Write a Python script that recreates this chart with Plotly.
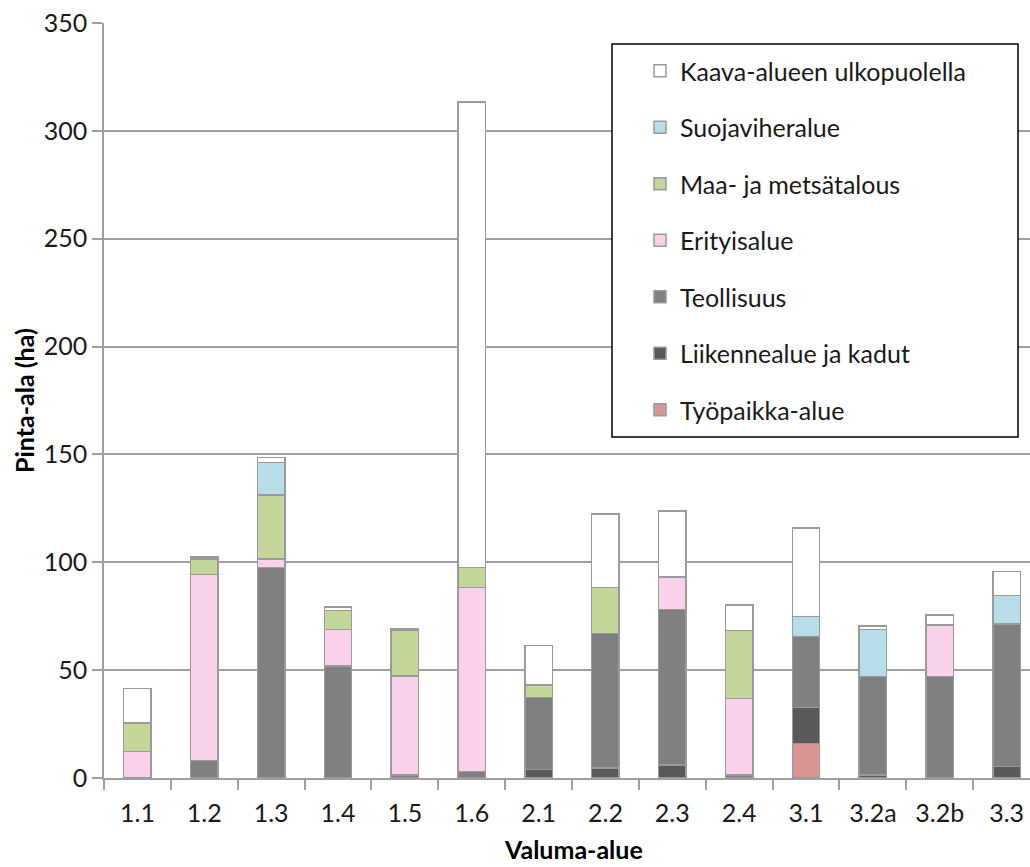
import plotly.graph_objects as go

# Catchment areas (valuma-alueet)
categories = ["1.1", "1.2", "1.3", "1.4", "1.5", "1.6", "2.1", "2.2",
              "2.3", "2.4", "3.1", "3.2a", "3.2b", "3.3"]

# Land-use areas per catchment, hectares (stacked bottom to top)
tyopaikka_alue = [0, 0, 0, 0, 0, 0, 0, 0, 0, 0, 16.1, 0, 0, 0]
liikennealue = [0, 0, 0, 0, 0, 0, 4.0, 4.6, 6.0, 0, 16.7, 1.5, 0, 5.3]
teollisuus = [0, 8.2, 97.5, 51.9, 1.5, 2.9, 33.4, 62.3, 72.2, 1.5, 32.7, 45.5, 47.0, 66.1]
erityisalue = [12.4, 86.1, 4.0, 17.0, 45.8, 85.3, 0, 0, 14.7, 35.4, 0, 0, 23.9, 0]
maa_metsatalous = [13.2, 7.2, 29.8, 8.8, 21.3, 9.5, 5.6, 21.3, 0.5, 31.4, 0, 0, 0, 0]
suojaviheralue = [0, 0, 15.0, 0, 0, 0, 0, 0, 0, 0, 9.3, 21.9, 0, 13.1]
kaava_ulkopuolella = [16.0, 1.0, 2.3, 1.6, 0.8, 215.7, 18.5, 34.2, 30.4, 11.8, 41.1, 1.6, 4.7, 11.2]

series = [
    ("Työpaikka-alue", tyopaikka_alue, "#d99694"),
    ("Liikennealue ja kadut", liikennealue, "#595959"),
    ("Teollisuus", teollisuus, "#808080"),
    ("Erityisalue", erityisalue, "#f9d1ea"),
    ("Maa- ja metsätalous", maa_metsatalous, "#c4d79b"),
    ("Suojaviheralue", suojaviheralue, "#b7dee8"),
    ("Kaava-alueen ulkopuolella", kaava_ulkopuolella, "#ffffff"),
]

FONT = "Lato"
TEXT = "#1a1a1a"
GRID = "#a0a0a0"

fig = go.Figure()
for i, (name, vals, color) in enumerate(series):
    fig.add_trace(go.Bar(
        x=categories, y=vals, name=name, legendgroup=name,
        legendrank=len(series) - i,  # top of the stack listed first
        marker=dict(color=color, line=dict(color="#9a9a9a", width=1.5)),
        width=0.41,
    ))

W, H = 1030, 867
L, R, T, B = 104, 0, 23, 89
pw, ph = W - L - R, H - T - B

def px_x(x):
    return (x - L) / pw

def px_y(y):
    return (H - B - y) / ph

fig.update_layout(
    width=W, height=H,
    margin=dict(l=L, r=R, t=T, b=B),
    barmode="stack",
    plot_bgcolor="white", paper_bgcolor="white",
    font=dict(family=FONT, size=25, color=TEXT),
    showlegend=True,
    legend=dict(
        x=px_x(640), y=px_y(48), xanchor="left", yanchor="top",
        traceorder="grouped", tracegroupgap=21,
        bgcolor="rgba(0,0,0,0)", borderwidth=0,
        font=dict(family=FONT, size=25, color=TEXT),
    ),
    xaxis=dict(
        range=[-0.5, -0.5 + pw / 66.86],
        showline=True, linecolor=GRID, linewidth=1.5,
        ticks="outside", ticklen=10, tickcolor=GRID, tickwidth=1.5,
        tickson="boundaries", showgrid=False, ticklabelstandoff=12,
        tickfont=dict(family=FONT, size=25, color=TEXT),
    ),
    yaxis=dict(
        range=[0, 350], tick0=0, dtick=50,
        showline=True, linecolor=GRID, linewidth=1.5,
        ticks="outside", ticklen=10, tickcolor=GRID, tickwidth=1.5,
        showgrid=True, gridcolor=GRID, gridwidth=1.5,
        zeroline=False,
        tickfont=dict(family=FONT, size=25, color=TEXT),
    ),
    shapes=[dict(
        type="rect", xref="paper", yref="paper",
        x0=px_x(612), x1=px_x(1018), y0=px_y(437), y1=px_y(44),
        line=dict(color="#000000", width=1.5), fillcolor="white", layer="above",
    )],
    annotations=[
        dict(text="<b>Pinta-ala (ha)</b>", textangle=-90, xref="paper", yref="paper",
             x=px_x(24), y=px_y(401), xanchor="center", yanchor="middle",
             showarrow=False, font=dict(family=FONT, size=25, color="#000000")),
        dict(text="<b>Valuma-alue</b>", xref="paper", yref="paper",
             x=px_x(573), y=px_y(849), xanchor="center", yanchor="middle",
             showarrow=False, font=dict(family=FONT, size=25, color="#000000")),
    ],
)

fig.write_html("out.html")
